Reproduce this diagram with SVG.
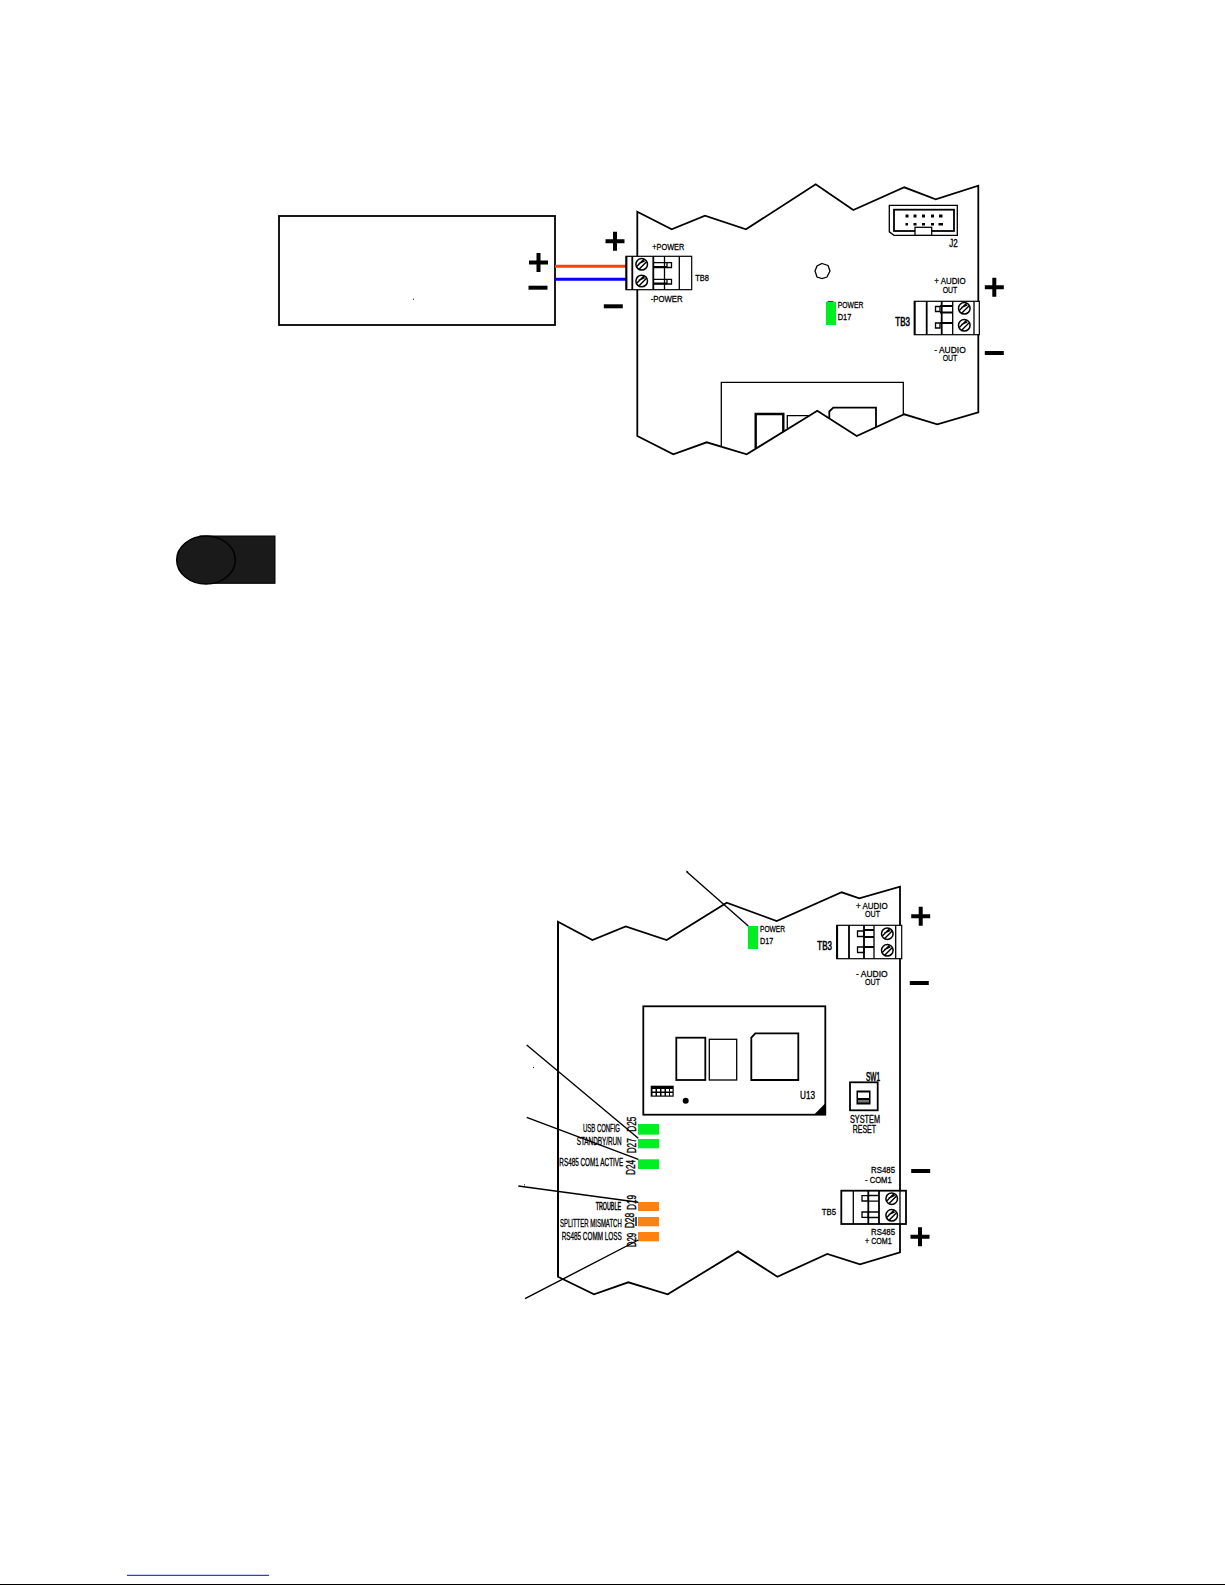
<svg xmlns="http://www.w3.org/2000/svg" xmlns:xlink="http://www.w3.org/1999/xlink" width="1225" height="1585" viewBox="0 0 1225 1585">
<style>
.o{fill:none;stroke:#000;stroke-width:1.3}
.m{fill:none;stroke:#000;stroke-width:1.8}
.h{fill:none;stroke:#000;stroke-width:2.4}
.b{fill:#fff;stroke:#000;stroke-width:1.8}
.k{fill:#000}
.g{fill:#00ee22}
.r{fill:#ff8210}
.l{fill:none;stroke:#000;stroke-width:1.4}
text{font-family:"Liberation Sans",Arial,sans-serif;font-size:9.8px;fill:#000;stroke:#000;stroke-width:.3}
.big{font-size:12px;stroke-width:.6}
.tall{font-size:10.8px;stroke-width:.35}
.rot{font-size:12px;stroke-width:.35}
</style>
<defs>
<g id="screw"><circle r="5.8" fill="#fff" stroke="#000" stroke-width="1.5"/><path d="M-5 2.2L2.2-5M-3-.6 3-3.4M-2.4 4.6 4.6-2.4" stroke="#000" stroke-width="1.4" fill="none"/></g>
<g id="plus"><path d="M-9.5 0H9.5M0-9.5V9.5" stroke="#000" stroke-width="4" fill="none"/></g>
<g id="minus"><path d="M-9.5 0H9.5" stroke="#000" stroke-width="4" fill="none"/></g>
</defs>

<g id="power-supply">
<rect x="279" y="216" width="276" height="109" class="m"/>
<use xlink:href="#plus" href="#plus" x="538.5" y="262.5"/>
<use xlink:href="#minus" href="#minus" x="538" y="287.7"/>
<rect x="413" y="298.7" width="1" height="1" class="k"/>
</g>

<g id="wires">
<path d="M555 266.3H628" stroke="#ff4000" stroke-width="3" fill="none"/>
<path d="M555 279.3H627" stroke="#0000ff" stroke-width="3" fill="none"/>
</g>

<g id="board-1">
<path class="m" d="M637.3 211.7L671.7 229.3 705 215.7 746 229.3 815.7 184.3 853.3 210 904.3 187.3 935.7 199.3 978.3 185.7V412.3L937.3 424.3 904.3 414.3 856.7 436 817.3 410.7 746.7 454.3 706.7 442.3 673.3 454.3 637.3 436Z"/>
<path class="o" d="M721.3 446.7V382.3H903.3V414.3"/>
<path class="h" d="M755.7 448.3V414H783.3V431.7"/>
<path class="o" d="M787.3 428.3V415.7H810"/>
<path class="m" d="M829.3 418.3V411.5L833.3 407.7H876V427.3"/>
<path class="o" d="M822 263.5L828 265.5 830 271 827 277 822 278.5 817 277 815 271 817 266Z"/>
</g>

<g id="tb8">
<rect x="626" y="256.3" width="65.7" height="33.4" fill="#fff" stroke="#000" stroke-width="1.2"/>
<path class="m" d="M626.5 256.3V289.7M632.3 256.3V289.7M653.3 256.3V289.7"/>
<path class="o" d="M679.3 256.3V289.7M664.5 256.3V289.7"/>
<path class="o" d="M654 262.7H671.5V267.5H654M654 279.3H671.5V284H654M667 262.7V267.5M667 279.3V284"/>
<path class="m" d="M654 266.8H667M654 283.3H667"/>
<use xlink:href="#screw" href="#screw" x="641.7" y="264.3"/>
<use xlink:href="#screw" href="#screw" x="641.7" y="281"/>
<text x="652.3" y="250" textLength="32" lengthAdjust="spacingAndGlyphs">+POWER</text>
<text x="650.7" y="302.3" textLength="32" lengthAdjust="spacingAndGlyphs">-POWER</text>
<text x="695.3" y="281.3" textLength="13.7" lengthAdjust="spacingAndGlyphs">TB8</text>
</g>
<g id="tb8-polarity">
<use xlink:href="#plus" href="#plus" x="615" y="241.3"/>
<use xlink:href="#minus" href="#minus" x="613.3" y="306.3"/>
</g>

<g id="j2">
<path class="o" d="M889.3 205.3H957.3V235.3H894L889.3 231.8Z"/>
<rect x="894" y="209.7" width="60" height="21.3" class="m"/>
<rect x="915" y="227.3" width="16.7" height="8" fill="#fff" stroke="#000" stroke-width="1.3"/>
<path class="k" d="M905.5 214.5h3v3h-3zM913.5 214.5h3v3h-3zM922 214.5h3v3h-3zM931 214.5h3v3h-3zM939 214.5h3.5v3h-3.5zM905.5 223h2.5v2.5h-2.5zM913.5 223h3v2.5h-3zM922 223h3v2.5h-3zM931 223h3v2.5h-3zM938.5 223h4.5v2.5h-4.5z"/>
<text x="949.3" y="247" textLength="8.5" lengthAdjust="spacingAndGlyphs" class="tall">J2</text>
</g>

<g id="led-d17-top">
<rect x="826" y="301.7" width="10" height="23.3" class="g"/>
<path d="M827.7 301.4H833.3" stroke="#000" stroke-width=".8"/>
<text x="837.7" y="308.3" textLength="25.6" lengthAdjust="spacingAndGlyphs">POWER</text>
<text x="837.7" y="320" textLength="13.6" lengthAdjust="spacingAndGlyphs">D17</text>
</g>

<g id="tb3-top">
<rect x="914.3" y="301.3" width="65" height="33.4" fill="#fff" stroke="#000" stroke-width="1.2"/>
<path class="m" d="M914.8 301.3V334.7M926.7 301.3V334.7M941.7 301.3V334.7"/>
<path class="o" d="M952.7 301.3V334.7M974 301.3V334.7"/>
<path class="o" d="M935.5 306.5H940V311.5H935.5ZM935.5 323H940V328H935.5Z"/>
<path class="m" d="M940 306H952.7M940 312.5H952.7M940 323H952.7"/>
<use xlink:href="#screw" href="#screw" x="964.3" y="308.3"/>
<use xlink:href="#screw" href="#screw" x="964.3" y="325.3"/>
<text x="934.3" y="284" textLength="31.4" lengthAdjust="spacingAndGlyphs">+ AUDIO</text>
<text x="942.7" y="293" textLength="14.6" lengthAdjust="spacingAndGlyphs">OUT</text>
<text x="934.3" y="352.5" textLength="31.4" lengthAdjust="spacingAndGlyphs">- AUDIO</text>
<text x="942.7" y="360.7" textLength="14.6" lengthAdjust="spacingAndGlyphs">OUT</text>
<text x="895.3" y="326" textLength="14.7" lengthAdjust="spacingAndGlyphs" class="big">TB3</text>
<use xlink:href="#plus" href="#plus" x="994.3" y="287.3"/>
<use xlink:href="#minus" href="#minus" x="994.3" y="353"/>
</g>

<g id="badge">
<rect x="200" y="536" width="75" height="47.3" fill="#1a1a1a" stroke="#000" stroke-width="1"/>
<ellipse cx="206" cy="560" rx="29.3" ry="24" fill="#1a1a1a" stroke="#000" stroke-width="1.5"/>
</g>

<g id="board-2">
<path class="m" d="M558 921.8L592.4 940 625.7 926.4 666.7 940 726.7 902.7 776.7 921 841.7 892.3 859.3 898.3 900 886.7V1252.3L860 1264.3 827.3 1254 777.4 1276.7 738 1251.4 667.7 1294.3 628.3 1282.3 594 1294.3 558 1276.7Z"/>
<path class="m" d="M558 921.8V1276.7"/>
</g>

<g id="module-u13">
<rect x="643.3" y="1006.3" width="182" height="108.4" class="m"/>
<path class="k" d="M814 1114.7H825.3V1103.3Z"/>
<rect x="676.3" y="1037.7" width="29" height="42.3" class="m"/>
<rect x="709.3" y="1039.3" width="27.4" height="40.7" class="o"/>
<path class="m" d="M751.3 1080V1037.7L755.3 1033.3H798.3V1080Z"/>
<rect x="650.7" y="1085.7" width="23" height="11" class="k"/>
<path d="M652.5 1089h3v2.4h-3zM657 1089h3v2.4h-3zM661.5 1089h3v2.4h-3zM666 1089h3v2.4h-3zM670 1089h2.5v2.4h-2.5zM652.5 1093h3v2.4h-3zM657 1093h3v2.4h-3zM661.5 1093h3v2.4h-3zM666 1093h3v2.4h-3zM670 1093h2.5v2.4h-2.5z" fill="#fff"/>
<circle cx="685.7" cy="1100.7" r="3" class="k"/>
<text x="800" y="1099" textLength="15" lengthAdjust="spacingAndGlyphs" class="tall" stroke-width=".5">U13</text>
</g>

<g id="sw1">
<rect x="850" y="1082.3" width="27.7" height="28" class="m"/>
<rect x="856.5" y="1090.5" width="14" height="14" fill="#000"/>
<rect x="858" y="1092.5" width="11" height="5.5" fill="#fff"/>
<rect x="858" y="1100" width="11" height="2.5" fill="#777"/>
<text x="866" y="1080.7" textLength="14" lengthAdjust="spacingAndGlyphs" class="big">SW1</text>
<text x="850" y="1123.3" textLength="30" lengthAdjust="spacingAndGlyphs" class="tall">SYSTEM</text>
<text x="852.7" y="1133" textLength="23.3" lengthAdjust="spacingAndGlyphs" class="tall">RESET</text>
</g>

<g id="led-d17-bottom">
<rect x="748" y="926" width="10" height="23" class="g"/>
<text x="760" y="932.3" textLength="25" lengthAdjust="spacingAndGlyphs">POWER</text>
<text x="760" y="944.3" textLength="13.3" lengthAdjust="spacingAndGlyphs">D17</text>
</g>

<g id="tb3-bottom">
<rect x="836.7" y="925.3" width="65" height="33.4" fill="#fff" stroke="#000" stroke-width="1.2"/>
<path class="m" d="M837.2 925.3V958.7M849 925.3V958.7M864 925.3V958.7"/>
<path class="o" d="M874 925.3V958.7M895.7 925.3V958.7"/>
<path class="o" d="M857.5 931H864V936.5H857.5ZM857.5 947H864V952.5H857.5Z"/>
<path class="m" d="M864 930H874M864 937H874M864 947H874"/>
<use xlink:href="#screw" href="#screw" x="887.3" y="933.7"/>
<use xlink:href="#screw" href="#screw" x="887.3" y="950.3"/>
<text x="856" y="909" textLength="31.7" lengthAdjust="spacingAndGlyphs">+ AUDIO</text>
<text x="865" y="917.3" textLength="15" lengthAdjust="spacingAndGlyphs">OUT</text>
<text x="856" y="977" textLength="31.7" lengthAdjust="spacingAndGlyphs">- AUDIO</text>
<text x="865" y="985.3" textLength="15" lengthAdjust="spacingAndGlyphs">OUT</text>
<text x="817.3" y="950" textLength="14.7" lengthAdjust="spacingAndGlyphs" class="big">TB3</text>
<use xlink:href="#plus" href="#plus" x="920.7" y="916.3"/>
<use xlink:href="#minus" href="#minus" x="919.3" y="983"/>
</g>

<g id="tb5">
<rect x="841.3" y="1190.7" width="64.7" height="33.3" fill="#fff" stroke="#000" stroke-width="1.8"/>
<path class="o" d="M853.3 1190.7V1224"/>
<path class="m" d="M868.3 1190.7V1224M879 1190.7V1224"/>
<path class="o" d="M900 1190.7V1224"/>
<path class="o" d="M862 1195.7H868.3V1201H862ZM862 1212H868.3V1217.3H862ZM868.3 1195.5H879M868.3 1201.2H879M868.3 1212H879M868.3 1217.5H879"/>
<use xlink:href="#screw" href="#screw" x="891.7" y="1198.7"/>
<use xlink:href="#screw" href="#screw" x="891.7" y="1215.3"/>
<text x="871" y="1173.3" textLength="24" lengthAdjust="spacingAndGlyphs">RS485</text>
<text x="865" y="1182.7" textLength="26.7" lengthAdjust="spacingAndGlyphs">- COM1</text>
<text x="871" y="1235" textLength="24" lengthAdjust="spacingAndGlyphs">RS485</text>
<text x="865" y="1244" textLength="26.7" lengthAdjust="spacingAndGlyphs">+ COM1</text>
<text x="821.7" y="1215" textLength="14.3" lengthAdjust="spacingAndGlyphs">TB5</text>
<use xlink:href="#minus" href="#minus" x="920.7" y="1171"/>
<use xlink:href="#plus" href="#plus" x="920" y="1236.7"/>
</g>

<g id="leds-status">
<rect x="638" y="1124" width="21" height="10.7" class="g"/>
<rect x="638" y="1139" width="21" height="9.3" class="g"/>
<rect x="638" y="1159.3" width="21" height="9.7" class="g"/>
<rect x="638" y="1202" width="21" height="9" class="r"/>
<rect x="638" y="1217" width="21" height="9.3" class="r"/>
<rect x="638" y="1232" width="21" height="9.3" class="r"/>
<path d="M636 1217V1226" stroke="#000" stroke-width="1.4"/>
<text x="583" y="1131.7" textLength="37" lengthAdjust="spacingAndGlyphs" class="tall">USB CONFIG</text>
<text x="576.7" y="1145.3" textLength="45" lengthAdjust="spacingAndGlyphs" class="tall">STANDBY/RUN</text>
<text x="559.3" y="1166" textLength="64" lengthAdjust="spacingAndGlyphs" class="tall">RS485 COM1 ACTIVE</text>
<text x="595.7" y="1210" textLength="25.3" lengthAdjust="spacingAndGlyphs" class="tall" style="stroke-width:.55">TROUBLE</text>
<text x="560" y="1226.7" textLength="61.7" lengthAdjust="spacingAndGlyphs" class="tall">SPLITTER MISMATCH</text>
<text x="561.7" y="1240" textLength="60" lengthAdjust="spacingAndGlyphs" class="tall">RS485 COMM LOSS</text>
<text transform="translate(636 1131.7) rotate(-90)" textLength="15" lengthAdjust="spacingAndGlyphs" class="rot">D25</text>
<text transform="translate(636 1153.3) rotate(-90)" textLength="15" lengthAdjust="spacingAndGlyphs" class="rot">D27</text>
<text transform="translate(635 1175) rotate(-90)" textLength="15" lengthAdjust="spacingAndGlyphs" class="rot">D24</text>
<text transform="translate(636 1210) rotate(-90)" textLength="15" lengthAdjust="spacingAndGlyphs" class="rot">D19</text>
<text transform="translate(634 1228.3) rotate(-90)" textLength="15.6" lengthAdjust="spacingAndGlyphs" class="rot">D28</text>
<text transform="translate(636 1247.3) rotate(-90)" textLength="14.6" lengthAdjust="spacingAndGlyphs" class="rot">D29</text>
</g>

<g id="connectors">
<path class="l" d="M686.7 871.7L748.3 926"/>
<path class="l" d="M526.7 1045L638.3 1138.3"/>
<path class="l" d="M526.7 1117.3L638.3 1159.3"/>
<path class="l" d="M518.3 1186L638.3 1202.3"/>
<path class="l" d="M525 1298.7L638.3 1240"/>
<path class="k" d="M686 870.5l2.4 1-1.4 1.4z"/>
<rect x="533" y="1067" width="1" height="1" class="k"/>
<rect x="524" y="1184.4" width="1" height="1" class="k"/>
</g>

<g id="page-edge">
<path d="M127 1575.3H269" stroke="#0000ff" stroke-width="1" fill="none"/>
<rect x="0" y="1584" width="1225" height="1" fill="#000"/>
</g>
</svg>
